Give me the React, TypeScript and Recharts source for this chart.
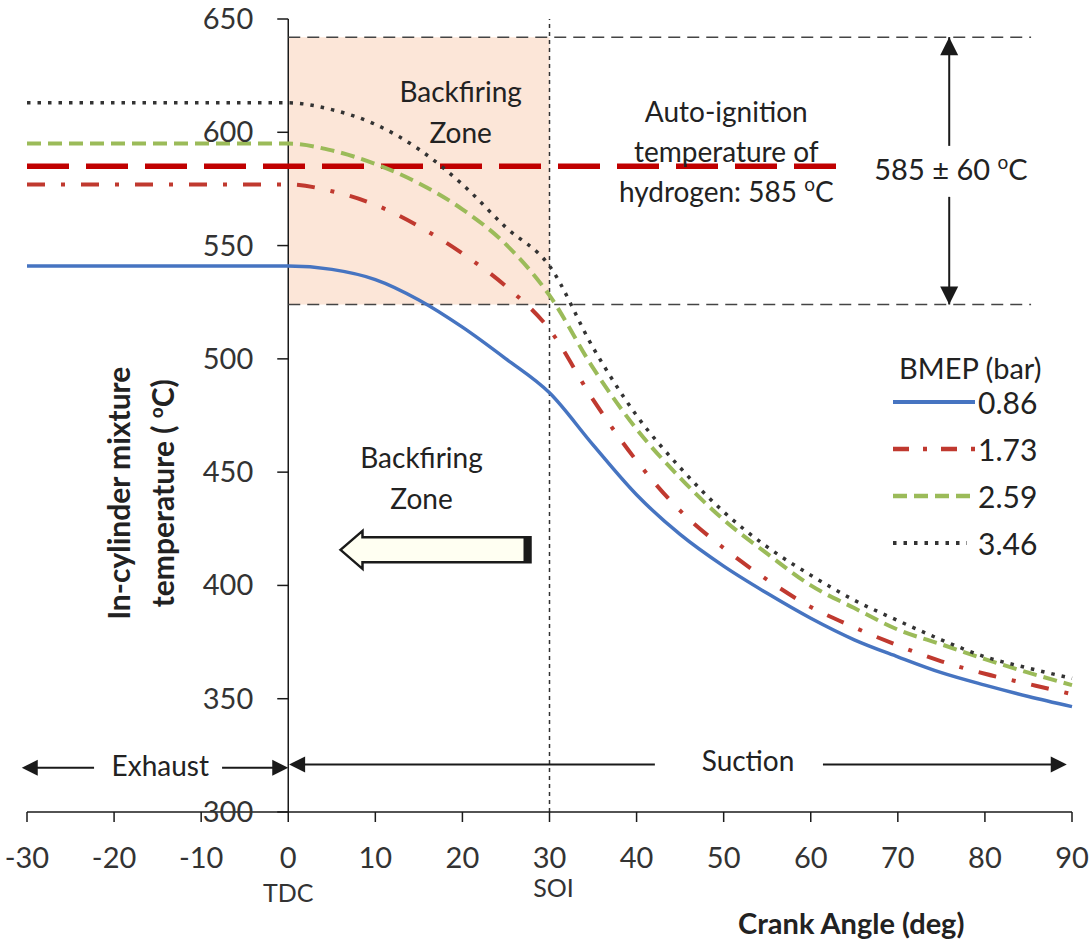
import React from 'react';
import {
  LineChart,
  Line,
  XAxis,
  YAxis,
  ReferenceArea,
  ReferenceLine,
  ReferenceDot,
  Legend,
} from 'recharts';

// crank angle (deg) and in-cylinder mixture temperature (°C) per BMEP
const angles = [-30, 0, 5, 10, 15, 20, 25, 30, 35, 40, 45, 50, 55, 60, 65, 70, 75, 80, 85, 90];
const bmep086 = [541, 541, 539.5, 535, 526, 514, 500, 485, 462, 440, 422.5, 408.5, 396.5, 385.5, 376, 368.5, 361.5, 356, 351, 346.5];
const bmep173 = [577, 577, 574, 568, 558.5, 546.5, 532, 513, 482, 455, 433, 416.5, 402.5, 390.5, 381.5, 373.5, 366.5, 361, 356.5, 352];
const bmep259 = [595, 595, 592, 586, 577.5, 566, 550.5, 528, 496, 469, 447.5, 429, 414, 400, 390, 380.5, 374, 367.5, 361.5, 356];
const bmep346 = [613, 613, 610, 603.5, 592.5, 577, 558, 541, 505, 475, 452, 432.5, 417, 404.5, 393.5, 384.5, 376, 368.5, 363.5, 359];

const xTicks = [-30, -20, -10, 0, 10, 20, 30, 40, 50, 60, 70, 80, 90];
const yTicks = [300, 350, 400, 450, 500, 550, 600, 650];

const autoIgnition = 585;
const bandLow = 524;
const bandHigh = 642;
const soiAngle = 30;

const series = [
  { key: 'b086', name: '0.86', color: '#4674C1', width: 3.5, dash: undefined as string | undefined },
  { key: 'b173', name: '1.73', color: '#C0392F', width: 4, dash: '18 16 4 16' },
  { key: 'b259', name: '2.59', color: '#9BBB59', width: 4, dash: '14 7' },
  { key: 'b346', name: '3.46', color: '#333333', width: 3.5, dash: '3.5 7' },
];

const data = angles.map((a, i) => ({
  angle: a,
  b086: bmep086[i],
  b173: bmep173[i],
  b259: bmep259[i],
  b346: bmep346[i],
}));

const FONT = 'Lato, "Open Sans", sans-serif';
const W = 1089;
const H = 947;
const margin = { top: 19, right: 17, left: 26, bottom: 0 };
const plotW = W - margin.left - 1 - margin.right;
// the y axis sits at crank angle 0, not at the left edge
const yAxisShift = (plotW * (0 - xTicks[0])) / (xTicks[xTicks.length - 1] - xTicks[0]);
const INK = '#1a1a1a';

function YTick(props: any) {
  const { x, y, payload } = props;
  const ax = x + yAxisShift;
  return (
    <g>
      <line x1={ax - 11} x2={ax} y1={y} y2={y} stroke={INK} strokeWidth={1.5} />
      <text x={ax - 35} y={y} dy={10} textAnchor="end" fontSize={29} fill="#333" fontFamily={FONT}>
        {payload.value}
      </text>
    </g>
  );
}

function XTick(props: any) {
  const { x, y, payload } = props;
  return (
    <g>
      <text x={x} y={y} dy={44} textAnchor="middle" fontSize={29} fill="#333" fontFamily={FONT}>
        {payload.value}
      </text>
      {payload.value === 0 && (
        <text x={x} y={y} dy={78} textAnchor="middle" fontSize={25} fill="#333" fontFamily={FONT}>
          TDC
        </text>
      )}
      {payload.value === soiAngle && (
        <text x={x + 4} y={y} dy={73} textAnchor="middle" fontSize={25} fill="#333" fontFamily={FONT}>
          SOI
        </text>
      )}
    </g>
  );
}

// centered block of text lines at the dot position
function textBlock(lines: React.ReactNode[], size: number, lineH: number, weight: number | string = 400, rotate = false) {
  return (p: any) => {
    const { cx, cy } = p;
    const n = lines.length;
    return (
      <g transform={rotate ? `rotate(-90 ${cx} ${cy})` : undefined}>
        {lines.map((ln, i) => (
          <text
            key={i}
            x={cx}
            y={cy + (i - (n - 1) / 2) * lineH}
            dy={size * 0.35}
            textAnchor="middle"
            fontSize={size}
            fontWeight={weight}
            fill="#222"
            fontFamily={FONT}
          >
            {ln}
          </text>
        ))}
      </g>
    );
  };
}

function head(dir: 'left' | 'right' | 'up' | 'down', len = 14, half = 7) {
  return (p: any) => {
    const { cx, cy } = p;
    let pts: number[][];
    if (dir === 'right') pts = [[cx, cy], [cx - len, cy - half], [cx - len, cy + half]];
    else if (dir === 'left') pts = [[cx, cy], [cx + len, cy - half], [cx + len, cy + half]];
    else if (dir === 'up') pts = [[cx, cy], [cx - half, cy + len], [cx + half, cy + len]];
    else pts = [[cx, cy], [cx - half, cy - len], [cx + half, cy - len]];
    return <polygon points={pts.map((q) => q.join(',')).join(' ')} fill={INK} />;
  };
}

function hollowArrow(p: any) {
  const { cx, cy } = p;
  const L = 190;
  const hl = 22;
  const bh = 12.5;
  const hh = 19;
  const pts = [
    [cx, cy],
    [cx + hl, cy - hh],
    [cx + hl, cy - bh],
    [cx + L, cy - bh],
    [cx + L, cy + bh],
    [cx + hl, cy + bh],
    [cx + hl, cy + hh],
  ];
  return (
    <g>
      <polygon points={pts.map((q) => q.join(',')).join(' ')} fill="#FFFFF2" stroke={INK} strokeWidth={2.5} strokeLinejoin="miter" />
      <rect x={cx + L - 7} y={cy - bh} width={7} height={bh * 2} fill={INK} />
    </g>
  );
}

const sup = (s: string) => [
  <tspan key="s" dy={-11} fontSize={19}>{s}</tspan>,
  <tspan key="c" dy={11}>C</tspan>,
];

function LegendBox() {
  return (
    <div style={{ position: 'relative', width: 190, height: 220, fontFamily: FONT, color: '#222' }}>
      <div style={{ position: 'absolute', left: 6, top: 0, fontSize: 29, lineHeight: '36px', whiteSpace: 'nowrap' }}>
        BMEP (bar)
      </div>
      {series.map((s, i) => (
        <div key={s.key} style={{ position: 'absolute', left: 0, top: 34 + i * 47, height: 36, display: 'flex', alignItems: 'center' }}>
          <svg width={84} height={10} style={{ display: 'block' }}>
            <line
              x1={0}
              x2={s.key === 'b346' ? 74 : 82}
              y1={5}
              y2={5}
              stroke={s.color}
              strokeWidth={s.width + 0.5}
              strokeDasharray={s.key === 'b173' ? '16 14 4 14' : s.dash}
            />
          </svg>
          <span style={{ fontSize: 30, lineHeight: '36px', marginLeft: 1 }}>{s.name}</span>
        </div>
      ))}
    </div>
  );
}

export default function App() {
  return (
    <div style={{ position: 'absolute', left: 0, top: 0, width: W, height: H, background: '#fff' }}>
      <LineChart width={W} height={H} data={data} margin={margin} style={{ fontFamily: FONT }}>
        <XAxis
          dataKey="angle"
          type="number"
          domain={[-30, 90]}
          ticks={xTicks}
          interval={0}
          height={H - 812}
          axisLine={{ stroke: INK, strokeWidth: 1.5 }}
          tickLine={{ stroke: INK, strokeWidth: 1.5 }}
          tickSize={10}
          tick={<XTick />}
        />
        <YAxis
          type="number"
          domain={[300, 650]}
          ticks={yTicks}
          interval={0}
          width={1}
          axisLine={false}
          tickLine={false}
          tickSize={0}
          tickMargin={0}
          tick={<YTick />}
        />

        <ReferenceArea x1={0} x2={soiAngle} y1={bandLow} y2={bandHigh} fill="#FCE6D8" fillOpacity={1} stroke="none" />
        <ReferenceLine x={0} stroke={INK} strokeWidth={1.5} />
        <ReferenceLine x={soiAngle} stroke="#333" strokeWidth={1.5} strokeDasharray="4 4" />
        <ReferenceLine segment={[{ x: 0, y: bandHigh }, { x: 85.3, y: bandHigh }]} stroke="#444" strokeWidth={1.5} strokeDasharray="12 7" />
        <ReferenceLine segment={[{ x: 0, y: bandLow }, { x: 85.3, y: bandLow }]} stroke="#444" strokeWidth={1.5} strokeDasharray="12 7" />
        <ReferenceLine segment={[{ x: -30, y: autoIgnition }, { x: 64.6, y: autoIgnition }]} stroke="#C00000" strokeWidth={5.5} strokeDasharray="42 17" />

        {series.map((s) => (
          <Line
            key={s.key}
            dataKey={s.key}
            name={s.name}
            type="monotone"
            stroke={s.color}
            strokeWidth={s.width}
            strokeDasharray={s.dash}
            dot={false}
            activeDot={false}
            isAnimationActive={false}
          />
        ))}

        {/* ±60 °C double arrow */}
        <ReferenceLine segment={[{ x: 75.9, y: bandHigh }, { x: 75.9, y: 594 }]} stroke={INK} strokeWidth={2} />
        <ReferenceLine segment={[{ x: 75.9, y: 571.5 }, { x: 75.9, y: bandLow }]} stroke={INK} strokeWidth={2} />
        <ReferenceDot x={75.9} y={bandHigh} ifOverflow="visible" shape={head('up', 18, 9)} />
        <ReferenceDot x={75.9} y={bandLow} ifOverflow="visible" shape={head('down', 18, 9)} />
        <ReferenceDot x={76.1} y={583.6} ifOverflow="visible" shape={textBlock([<>585 ± 60 {sup('o')}</>], 29, 40)} />

        {/* exhaust / suction strokes */}
        <ReferenceLine segment={[{ x: -29.5, y: 319.5 }, { x: -22.3, y: 319.5 }]} stroke={INK} strokeWidth={2} />
        <ReferenceLine segment={[{ x: -7.6, y: 319.5 }, { x: -1, y: 319.5 }]} stroke={INK} strokeWidth={2} />
        <ReferenceDot x={-30.6} y={319.5} ifOverflow="visible" shape={head('left', 16, 8)} />
        <ReferenceDot x={0} y={319.5} ifOverflow="visible" shape={head('right', 16, 8)} />
        <ReferenceDot x={-14.7} y={320} ifOverflow="visible" shape={textBlock(['Exhaust'], 28, 40)} />
        <ReferenceLine segment={[{ x: 1, y: 321 }, { x: 42.1, y: 321 }]} stroke={INK} strokeWidth={2} />
        <ReferenceLine segment={[{ x: 61.4, y: 321 }, { x: 88, y: 321 }]} stroke={INK} strokeWidth={2} />
        <ReferenceDot x={0.1} y={321} ifOverflow="visible" shape={head('left', 16, 8)} />
        <ReferenceDot x={89.4} y={321} ifOverflow="visible" shape={head('right', 16, 8)} />
        <ReferenceDot x={52.8} y={322.5} ifOverflow="visible" shape={textBlock(['Suction'], 28, 40)} />

        {/* zone labels */}
        <ReferenceDot x={19.8} y={608.5} ifOverflow="visible" shape={textBlock(['Backfiring', 'Zone'], 28, 41)} />
        <ReferenceDot x={15.3} y={447} ifOverflow="visible" shape={textBlock(['Backfiring', 'Zone'], 28, 41)} />
        <ReferenceDot x={6} y={415.7} ifOverflow="visible" shape={hollowArrow} />
        <ReferenceDot
          x={50.3}
          y={591}
          ifOverflow="visible"
          shape={textBlock(['Auto-ignition', 'temperature  of', <>hydrogen:  585 {sup('o')}</>], 28, 40)}
        />

        {/* axis titles */}
        <ReferenceDot
          x={-16.8}
          y={440.7}
          ifOverflow="visible"
          shape={textBlock(['In-cylinder mixture', <>temperature ( {sup('o')})</>], 30, 44, 700, true)}
        />
        <ReferenceDot x={64.65} y={250.5} ifOverflow="visible" shape={textBlock(['Crank Angle (deg)'], 29, 40, 700)} />

        <Legend
          layout="vertical"
          align="center"
          verticalAlign="middle"
          content={() => <LegendBox />}
          wrapperStyle={{ position: 'absolute', left: 893, top: 350, width: 190, height: 220 }}
        />
      </LineChart>
    </div>
  );
}
